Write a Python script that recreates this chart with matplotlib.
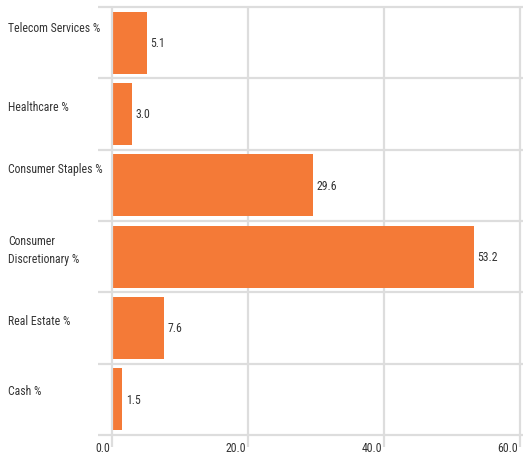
import matplotlib
matplotlib.use("Agg")
from matplotlib import pyplot as plt
from matplotlib import transforms

categorias = ["Telecom Services %", "Healthcare %", "Consumer Staples %",
              "Consumer\nDiscretionary %", "Real Estate %", "Cash %"]
valores = [5.1, 3.0, 29.6, 53.2, 7.6, 1.5]
ticks_x = [0, 20, 40, 60]

plt.rcParams['font.family'] = ['Roboto Condensed', 'DejaVu Sans']

W, H = 523, 461
fig = plt.figure(figsize=(W / 100, H / 100), dpi=100)
# posição do eixo em pixels: x=0 em 112, x=60 em 520, topo 7, base 435
ax = fig.add_axes([112 / W, (H - 435) / H, (520 - 112) / W, (435 - 7) / H])

cor_barra = "#F47A37"
cinza = "#DDDDDD"
texto = "#333333"
fs = 8.5

n = len(categorias)
ys = list(range(n))
ax.barh(ys, valores, height=0.87, color=cor_barra, zorder=2)
ax.set_ylim(n - 0.5, -0.5)
ax.set_xlim(0, 60)

for s in ax.spines.values():
    s.set_visible(False)
ax.set_yticks([])
ax.set_xticks([])

# px por unidade no eixo y (cada faixa ~71 px)
px_y = (435 - 7) / n

# linhas verticais (descem ~12 px abaixo do eixo)
for t in ticks_x:
    ax.plot([t, t], [-0.5, n - 0.5 + 12 / px_y], color=cinza, lw=1.6,
            clip_on=False, zorder=3 if t == 0 else 1, solid_capstyle="butt")
    ax.annotate(f"{t:.1f}", xy=(t, n - 0.5), xytext=(-1.5, -9.5),
                textcoords="offset points", ha="right", va="center",
                fontsize=fs, color=texto, annotation_clip=False)

# separadores horizontais entre categorias
trans = transforms.blended_transform_factory(fig.transFigure, ax.transData)
for i in range(n + 1):
    ax.plot([98 / W, 1.0], [i - 0.5, i - 0.5], color=cinza, lw=1.6,
            transform=trans, clip_on=False, zorder=1, solid_capstyle="butt")

# rótulos das categorias (deslocamento vertical em px a partir do topo da faixa)
desloc = [21, 29, 20, 29.5, 29, 28]
for i, c in enumerate(categorias):
    ax.text(8 / W, i - 0.5 + desloc[i] / px_y, c, transform=trans, ha="left",
            va="center", fontsize=fs, color=texto, linespacing=1.5)

# valores das barras
for i, v in enumerate(valores):
    ax.annotate(f"{v:.1f}", xy=(v, i), xytext=(2.5, -0.5), textcoords="offset points",
                ha="left", va="center", fontsize=fs, color=texto)

fig.savefig("out.png", dpi=100)
